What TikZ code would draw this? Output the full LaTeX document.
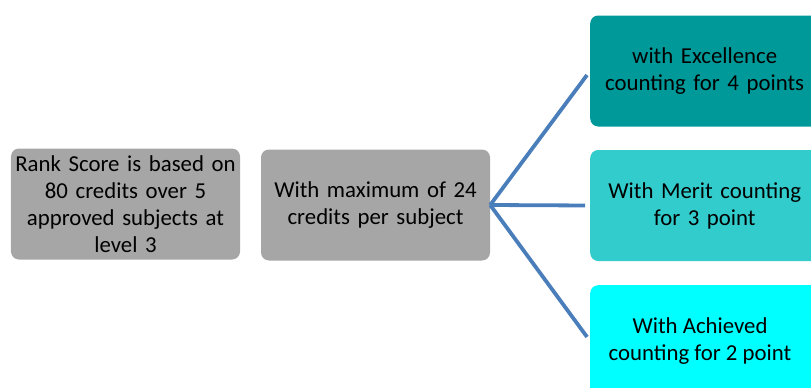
\documentclass[tikz,border=0pt]{standalone}
\usepackage{fontspec}
\setmainfont{Carlito}
\definecolor{boxgray}{HTML}{A6A6A6}
\definecolor{excteal}{HTML}{009999}
\definecolor{meritcyan}{HTML}{33CCCC}
\definecolor{achcyan}{HTML}{00FFFF}
\definecolor{linkblue}{HTML}{4A7EBB}
\tikzset{
  boxnode/.style={rounded corners=8bp,minimum width=229bp,minimum height=111bp,
    text width=227bp,align=center,inner sep=0pt,
    font=\fontsize{22.8bp}{27bp}\selectfont},
  link/.style={linkblue,line width=3.8bp,shorten >=5bp}
}
\begin{document}
\begin{tikzpicture}[x=1bp,y=-1bp]
                    \useasboundingbox (0,0) rectangle (811,387);
                    %NODE
                    \node[boxnode,fill=boxgray] (R) at (125.5,204){Rank Score is based on\\80 credits over 5\\approved subjects at\\level 3};
                    \node[boxnode,fill=boxgray] (M) at (375.5,205){With maximum of 24\\credits per subject};
                    \node[boxnode,fill=excteal,anchor=west] (E) at (590,71){with Excellence\\counting for 4 points};
                    \node[boxnode,fill=meritcyan,anchor=west] (T) at (590,205.5){With Merit counting\\for 3 point};
                    \node[boxnode,fill=achcyan,anchor=north west] (A) at (590,285){};
                    \node[font=\fontsize{22.8bp}{27bp}\selectfont,align=center,anchor=center] (At) at (700,341){With Achieved\\counting for 2 point};

                    %EDGE
                    \draw[link] (M.east) -- (E.west);
                    \draw[link] (M.east) -- (T.west);
                    \draw[link] (M.east) -- (A.west |- At.center);
                \end{tikzpicture}
\end{document}
